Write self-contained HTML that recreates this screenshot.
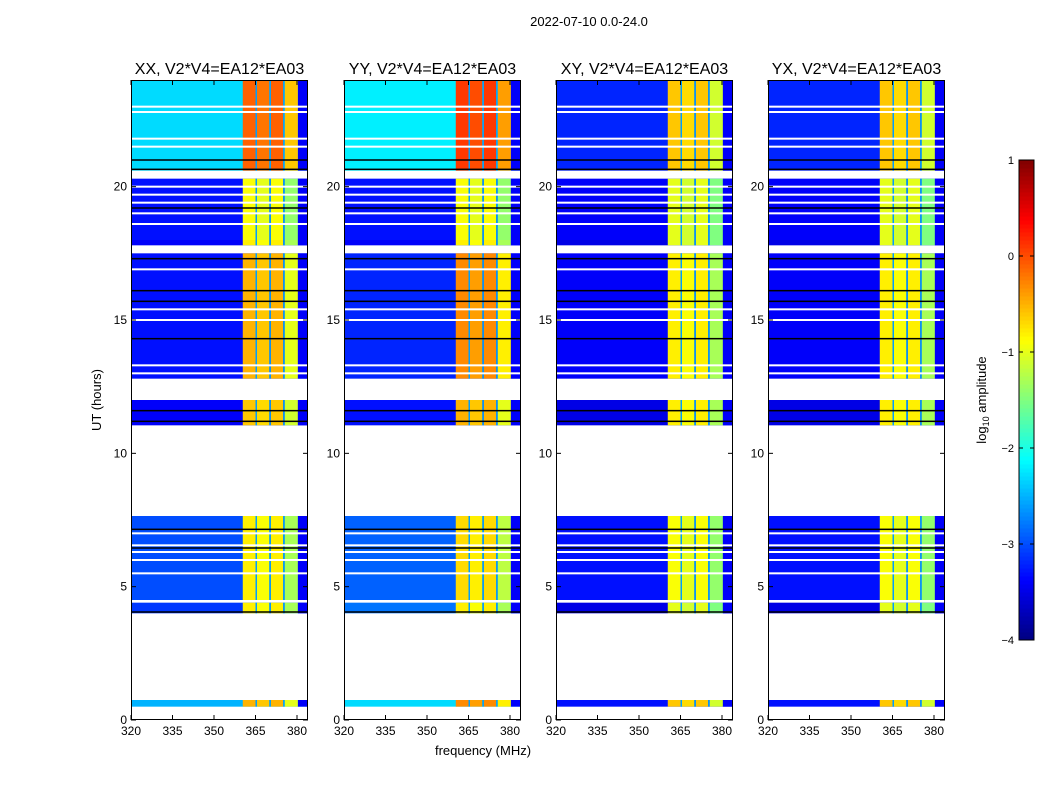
<!DOCTYPE html>
<html><head><meta charset="utf-8"><style>
body{margin:0;background:#fff;font-family:"Liberation Sans",sans-serif;}
svg text{font-family:"Liberation Sans",sans-serif;}
</style></head><body>
<svg id="fig" width="1050" height="800" xmlns="http://www.w3.org/2000/svg">
<text x="589" y="26" font-size="13" text-anchor="middle">2022-07-10 0.0-24.0</text>
<text x="483" y="755" font-size="13" text-anchor="middle">frequency (MHz)</text>
<text x="101" y="400" font-size="13" text-anchor="middle" transform="rotate(-90 101 400)">UT (hours)</text>
<text x="986" y="400" font-size="13" text-anchor="middle" transform="rotate(-90 986 400)">log<tspan font-size="9" dy="3">10</tspan><tspan dy="-3"> amplitude</tspan></text>
</svg>
<script>
// ---- data ----
const panelNames = ["XX","YY","XY","YX"];
const blockStarts = [0.5, 4.0, 4.5, 11.05, 12.8, 17.8, 18.0, 20.6];
const blockEnds   = [0.75,4.4, 7.65,12.0, 17.5, 18.0, 20.3, 24.0];
// background log amplitude per panel per block
const bgXX = [-2.5,-3.1,-3.0,-3.4,-3.3,-3.4,-3.3,-2.3];
const bgYY = [-2.3,-2.8,-2.9,-3.3,-3.2,-3.4,-3.3,-2.2];
const bgXY = [-3.3,-3.5,-3.3,-3.5,-3.4,-3.5,-3.4,-3.2];
const bgYX = [-3.3,-3.5,-3.3,-3.5,-3.4,-3.5,-3.4,-3.2];
// band level per panel per block
const bandXX = [-0.6,-0.9,-0.9,-0.7,-0.6,-0.9,-1.0,-0.2];
const bandYY = [-0.4,-0.9,-0.8,-0.6,-0.4,-0.9,-1.0,0.0];
const bandXY = [-0.7,-1.1,-1.0,-0.9,-0.9,-1.1,-1.1,-0.7];
const bandYX = [-0.7,-1.1,-1.0,-0.9,-0.9,-1.1,-1.1,-0.7];
const subEdges = [360.4, 365, 370, 375, 380.3];
const subOffset = [0.1, 0.0, 0.1, -0.4];
const whiteLines = [4.45, 5.5, 6.0, 6.3, 6.55, 7.0, 13.0, 13.3, 15.0, 15.4, 16.9, 18.6, 19.0, 19.4, 19.7, 20.0, 21.5, 21.8, 22.8, 23.0];
const blackLines = [4.05, 6.45, 7.15, 11.2, 11.6, 14.3, 15.7, 16.1, 17.3, 19.2, 21.0, 20.65];
const yTicks = [0,5,10,15,20];
const xTicks = [320,335,350,365,380];
const cbTicks = [1,0,-1,-2,-3,-4];
const bgs = [bgXX,bgYY,bgXY,bgYX], bands=[bandXX,bandYY,bandXY,bandYX];

const svg=document.getElementById('fig');
const NS="http://www.w3.org/2000/svg";
function jet(v){let t=Math.max(0,Math.min(1,(v+4)/5));const c=x=>Math.round(255*Math.max(0,Math.min(1,1.5-Math.abs(x))));return `rgb(${c(4*t-3)},${c(4*t-2)},${c(4*t-1)})`;}
function mk(tag,attrs,parent){const e=document.createElementNS(NS,tag);for(const k in attrs)e.setAttribute(k,attrs[k]);(parent||svg).appendChild(e);return e;}
const lefts=[131,344,556,768], W=177, pTop=80, pBot=720;
const yS=h=>pBot-(h/24)*(pBot-pTop);
panelNames.forEach((nm,p)=>{
  const L=lefts[p];
  const xS=f=>L+(f-320)*(166/60);
  const g=mk('g',{});
  
  
  blockStarts.forEach((s,i)=>{
    const e=blockEnds[i];
    const r=mk('rect',{x:L,y:yS(e),width:W,height:yS(s)-yS(e),fill:jet(bgs[p][i])},g);
    
    
    mk('rect',{x:xS(subEdges[4]),y:yS(e),width:L+W-xS(subEdges[4]),height:yS(s)-yS(e),fill:jet(-3.4)},g);
    for(let k=0;k<4;k++){
      const b=mk('rect',{x:xS(subEdges[k])+(k?1.5:0),y:yS(e),width:xS(subEdges[k+1])-xS(subEdges[k])-(k?1.5:0),height:yS(s)-yS(e),fill:jet(bands[p][i]+subOffset[k])},g);
      
      
    }
    for(let k=1;k<4;k++){
      mk('rect',{x:xS(subEdges[k]),y:yS(e),width:1.5,height:yS(s)-yS(e),fill:jet(-2.6)},g);
    }
  });
  const inside=h=>blockStarts.some((s,i)=>h>=s&&h<=blockEnds[i]);
  whiteLines.forEach(h=>{if(inside(h)){const l=mk('rect',{x:L,y:yS(h)-1,width:W,height:2,fill:'#fff'},g);}});
  blackLines.forEach(h=>{if(inside(h)){const l=mk('rect',{x:L,y:yS(h)-0.75,width:W,height:1.5,fill:'#000'},g);}});
  const fr=mk('rect',{x:L+0.5,y:pTop+0.5,width:W-1,height:pBot-pTop-1,fill:'none',stroke:'#000','stroke-width':1},g);
  
  const t=mk('text',{x:L+W/2,y:74,'font-size':16,'text-anchor':'middle'},g);t.textContent=nm+", V2*V4=EA12*EA03";
  
  yTicks.forEach(v=>{const y=yS(v);mk('line',{x1:L,x2:L+5,y1:y,y2:y,stroke:'#000'},g);mk('line',{x1:L+W-5,x2:L+W,y1:y,y2:y,stroke:'#000'},g);
    const tx=mk('text',{x:L-4,y:y+4,'font-size':12,'text-anchor':'end'},g);tx.textContent=v;});
  xTicks.forEach(v=>{const x=xS(v);mk('line',{x1:x,x2:x,y1:pBot,y2:pBot-5,stroke:'#000'},g);mk('line',{x1:x,x2:x,y1:pTop,y2:pTop+5,stroke:'#000'},g);
    const tx=mk('text',{x:x,y:pBot+15,'font-size':12,'text-anchor':'middle'},g);tx.textContent=v;});
});
// colorbar
const cb=mk('g',{});


const cT=160,cB=640,cL=1019,cW=15;
for(let i=0;i<120;i++){const v=-4+5*(i+0.5)/120;mk('rect',{x:cL,y:cB-(i+1)*(cB-cT)/120,width:cW,height:(cB-cT)/120+0.5,fill:jet(v)},cb);}
mk('rect',{x:cL,y:cT,width:cW,height:cB-cT,fill:'none',stroke:'#000'},cb);
cbTicks.forEach(v=>{const y=cB-(v+4)/5*(cB-cT);mk('line',{x1:cL,x2:cL+4,y1:y,y2:y,stroke:'#000'},cb);mk('line',{x1:cL+cW-4,x2:cL+cW,y1:y,y2:y,stroke:'#000'},cb);
  const tx=mk('text',{x:1014,y:y+4,'font-size':11,'text-anchor':'end'},cb);tx.textContent=v<0?'\u2212'+(-v):v;});
</script>
</body></html>
